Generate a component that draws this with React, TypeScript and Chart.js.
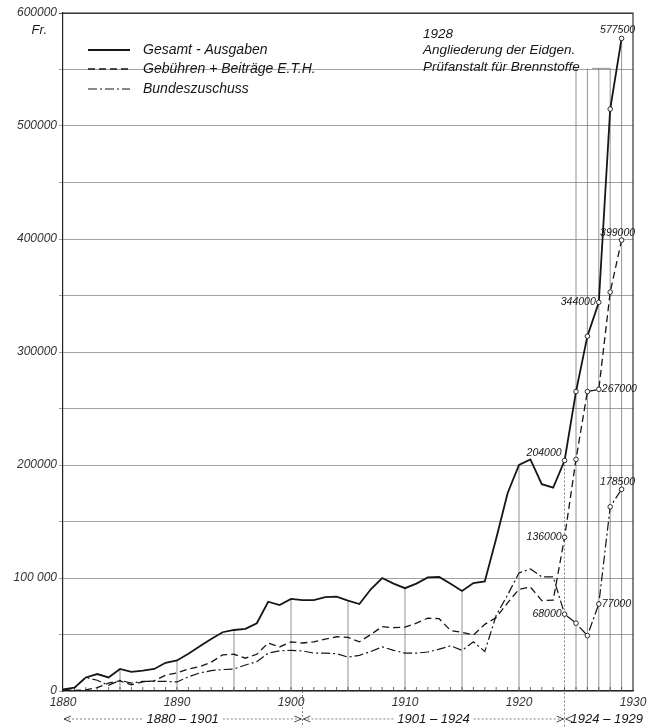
import React, { useEffect, useRef } from 'react';
import { Chart, registerables } from 'chart.js';

Chart.register(...registerables);

const years = [
  1880, 1881, 1882, 1883, 1884, 1885, 1886, 1887, 1888, 1889,
  1890, 1891, 1892, 1893, 1894, 1895, 1896, 1897, 1898, 1899,
  1900, 1901, 1902, 1903, 1904, 1905, 1906, 1907, 1908, 1909,
  1910, 1911, 1912, 1913, 1914, 1915, 1916, 1917, 1918, 1919,
  1920, 1921, 1922, 1923, 1924, 1925, 1926, 1927, 1928, 1929,
];

const gesamt = [
  1500, 3000, 12000, 15000, 12000, 19500, 17000, 18000, 19500, 25000,
  27000, 33000, 39500, 46000, 52000, 54000, 55000, 60000, 79000, 76000,
  81500, 80500, 80500, 83000, 83500, 80000, 77000, 90000, 100000, 95000,
  91000, 95000, 100500, 101000, 95000, 88500, 95500, 97000, 135000, 175000,
  200000, 205000, 183000, 180000, 204000, 265000, 314000, 344000, 515000, 577500,
];

const gebuehren = [
  500, 500, 1000, 3000, 7000, 9000, 5500, 8000, 9000, 14000,
  16000, 19500, 21500, 25500, 32000, 32500, 29000, 32500, 42500, 39000,
  43500, 42500, 43500, 46000, 48000, 47500, 43500, 50000, 57000, 56000,
  56500, 60000, 64500, 64000, 53500, 52000, 49500, 59000, 65000, 78000,
  90000, 92000, 80000, 80500, 136000, 205000, 265000, 267000, 353000, 399000,
];

const bund = [
  1000, 2500, 12000, 9500, 5000, 9500, 7000, 8500, 8500, 8500,
  8000, 12500, 16000, 18000, 19000, 19500, 23000, 26000, 33500, 35500,
  36000, 35500, 33500, 33500, 33000, 30000, 31500, 35000, 39000, 36000,
  33500, 33500, 34500, 37000, 40000, 36000, 43500, 35000, 67000, 85000,
  104500, 108000, 101000, 101000, 68000, 60000, 49000, 77000, 163000, 178500,
];

const seriesNames = ['Gesamt - Ausgaben', 'Gebühren + Beiträge E.T.H.', 'Bundeszuschuss'];
const yTickLabels = ['0', '100 000', '200000', '300000', '400000', '500000', '600000'];
const xTickYears = [1880, 1890, 1900, 1910, 1920, 1930];
const labelledYears = [1924, 1927, 1929];
const periodBounds = [1880, 1901, 1924, 1929];
const periodLabels = ['1880 – 1901', '1901 – 1924', '1924 – 1929'];
const partialGridYears = [1885, 1890, 1895, 1900, 1905, 1910, 1915, 1920];
const lateGridYears = [1925, 1926, 1927, 1928];
const noteLines = ['1928', 'Angliederung der Eidgen.', 'Prüfanstalt für Brennstoffe'];
const noteYear = 1928;
const noteLevel = 551000;
const unitLabel = 'Fr.';

const FONT = "'Liberation Sans', Arial, sans-serif";
const INK = '#161616';
const DASH_GEB = [7, 4];
const DASH_BUND = [9, 3, 2, 3];

function fmt(v: number) {
  return String(v);
}

export default function App() {
  const ref = useRef<HTMLCanvasElement | null>(null);

  useEffect(() => {
    document.body.style.margin = '0';
    const canvas = ref.current;
    if (!canvas) return;

    const valueAt = (arr: number[], yr: number) => arr[years.indexOf(yr)];

    const decor = {
      id: 'decor',
      beforeDatasetsDraw(chart: any) {
        const { ctx, chartArea } = chart;
        const xs = chart.scales.x;
        const ys = chart.scales.y;
        const bottom = chartArea.bottom;
        ctx.save();
        ctx.strokeStyle = '#222';
        ctx.lineWidth = 1.1;
        ctx.beginPath();
        ctx.moveTo(chartArea.left, chartArea.top);
        ctx.lineTo(chartArea.right, chartArea.top);
        ctx.lineTo(chartArea.right, chartArea.bottom);
        ctx.stroke();

        ctx.strokeStyle = '#777';
        ctx.lineWidth = 0.8;
        partialGridYears.forEach((yr) => {
          const x = xs.getPixelForValue(yr);
          ctx.beginPath();
          ctx.moveTo(x, bottom);
          ctx.lineTo(x, ys.getPixelForValue(valueAt(gesamt, yr)));
          ctx.stroke();
        });
        lateGridYears.forEach((yr) => {
          const x = xs.getPixelForValue(yr);
          ctx.beginPath();
          ctx.moveTo(x, bottom);
          ctx.lineTo(x, ys.getPixelForValue(noteLevel));
          ctx.stroke();
        });
        {
          const x = xs.getPixelForValue(1929);
          ctx.beginPath();
          ctx.moveTo(x, bottom);
          ctx.lineTo(x, ys.getPixelForValue(valueAt(gesamt, 1929)));
          ctx.stroke();
        }
        ctx.beginPath();
        ctx.moveTo(592, ys.getPixelForValue(noteLevel));
        ctx.lineTo(xs.getPixelForValue(noteYear), ys.getPixelForValue(noteLevel));
        ctx.stroke();

        ctx.setLineDash([2, 2]);
        ctx.strokeStyle = '#666';
        [1901, 1924].forEach((yr) => {
          const x = xs.getPixelForValue(yr);
          const top = yr === 1924 ? ys.getPixelForValue(valueAt(gesamt, yr)) : bottom;
          ctx.beginPath();
          ctx.moveTo(x, top);
          ctx.lineTo(x, chart.height);
          ctx.stroke();
        });
        ctx.setLineDash([]);

        ctx.strokeStyle = '#444';
        ctx.lineWidth = 0.8;
        for (let yr = 1881; yr < 1930; yr++) {
          const x = xs.getPixelForValue(yr);
          ctx.beginPath();
          ctx.moveTo(x, bottom);
          ctx.lineTo(x, bottom - 4);
          ctx.stroke();
        }

        const py = 719;
        ctx.font = `italic 13px ${FONT}`;
        ctx.fillStyle = INK;
        ctx.textBaseline = 'middle';
        const arrow = (x: number, dir: number) => {
          ctx.setLineDash([]);
          ctx.strokeStyle = '#333';
          ctx.lineWidth = 0.9;
          ctx.beginPath();
          ctx.moveTo(x + dir * 7, py - 3);
          ctx.lineTo(x, py);
          ctx.lineTo(x + dir * 7, py + 3);
          ctx.stroke();
        };
        const dotted = (a: number, b: number) => {
          if (b <= a) return;
          ctx.setLineDash([2, 2]);
          ctx.strokeStyle = '#666';
          ctx.lineWidth = 0.8;
          ctx.beginPath();
          ctx.moveTo(a, py);
          ctx.lineTo(b, py);
          ctx.stroke();
          ctx.setLineDash([]);
        };
        for (let i = 0; i < periodLabels.length; i++) {
          const x0 = xs.getPixelForValue(periodBounds[i]);
          const x1 = xs.getPixelForValue(periodBounds[i + 1]);
          const w = ctx.measureText(periodLabels[i]).width;
          if (i < 2) {
            const cx = (x0 + x1) / 2;
            ctx.textAlign = 'center';
            ctx.fillText(periodLabels[i], cx, py);
            dotted(x0 + 1, cx - w / 2 - 4);
            dotted(cx + w / 2 + 4, x1 - 1);
            arrow(x0 + 1, 1);
            arrow(x1 - 1, -1);
          } else {
            ctx.textAlign = 'left';
            arrow(x0 + 1, 1);
            ctx.fillText(periodLabels[i], x0 + 6, py);
          }
        }
        ctx.restore();
      },
      afterDatasetsDraw(chart: any) {
        const { ctx } = chart;
        const xs = chart.scales.x;
        const ys = chart.scales.y;
        ctx.save();
        ctx.fillStyle = INK;

        ctx.font = `italic 10.5px ${FONT}`;
        ctx.textBaseline = 'middle';
        const put = (arr: number[], yr: number, mode: string, dy: number) => {
          const v = valueAt(arr, yr);
          const x = xs.getPixelForValue(yr);
          const y = ys.getPixelForValue(v);
          const t = fmt(v);
          if (mode === 'left') {
            ctx.textAlign = 'right';
            ctx.fillText(t, x - 3, y + dy);
          } else if (mode === 'right') {
            ctx.textAlign = 'left';
            ctx.fillText(t, x + 3, y + dy);
          } else {
            ctx.textAlign = 'center';
            ctx.fillText(t, x - 4, y + dy);
          }
        };
        const [y1, y2, y3] = labelledYears;
        put(gesamt, y1, 'left', -7);
        put(gesamt, y2, 'left', 0);
        put(gesamt, y3, 'above', -8);
        put(gebuehren, y1, 'left', 0);
        put(gebuehren, y2, 'right', 0);
        put(gebuehren, y3, 'above', -7);
        put(bund, y1, 'left', 0);
        put(bund, y2, 'right', 0);
        put(bund, y3, 'above', -7);

        ctx.font = `italic 13.5px ${FONT}`;
        ctx.textAlign = 'left';
        noteLines.forEach((t, i) => {
          ctx.fillText(t, 423, 34 + i * 16.5);
        });

        ctx.font = `italic 13px ${FONT}`;
        ctx.textAlign = 'right';
        ctx.fillText(unitLabel, 47, 30);

        const dashes = [[], DASH_GEB, DASH_BUND];
        const widths = [1.8, 1.3, 1.2];
        const ly = [50, 69, 89];
        ctx.font = `italic 14px ${FONT}`;
        ctx.textAlign = 'left';
        seriesNames.forEach((name, i) => {
          ctx.strokeStyle = INK;
          ctx.lineWidth = widths[i];
          ctx.setLineDash(dashes[i]);
          ctx.beginPath();
          ctx.moveTo(88, ly[i]);
          ctx.lineTo(130, ly[i]);
          ctx.stroke();
          ctx.setLineDash([]);
          ctx.fillText(name, 143, ly[i]);
        });
        ctx.restore();
      },
    };

    const pointR = (c: any) => (years[c.dataIndex] >= 1924 ? 2.3 : 0);
    const mk = (arr: number[]) => years.map((x, i) => ({ x, y: arr[i] }));
    const common = {
      borderColor: INK,
      tension: 0,
      fill: false,
      pointRadius: pointR,
      pointHoverRadius: pointR,
      pointBackgroundColor: '#fff',
      pointBorderColor: INK,
      pointBorderWidth: 0.9,
    };

    const chart = new Chart(canvas, {
      type: 'line',
      data: {
        datasets: [
          { ...common, label: seriesNames[0], data: mk(gesamt), borderWidth: 1.8 },
          { ...common, label: seriesNames[1], data: mk(gebuehren), borderWidth: 1.3, borderDash: DASH_GEB },
          { ...common, label: seriesNames[2], data: mk(bund), borderWidth: 1.2, borderDash: DASH_BUND },
        ],
      },
      options: {
        responsive: false,
        animation: false,
        events: [],
        layout: { padding: { top: 13, right: 23, left: 0, bottom: 0 } },
        plugins: { legend: { display: false }, tooltip: { enabled: false } },
        scales: {
          x: {
            type: 'linear',
            min: 1880,
            max: 1930,
            afterBuildTicks: (s: any) => {
              s.ticks = xTickYears.map((v) => ({ value: v }));
            },
            afterFit: (s: any) => {
              s.height = 36;
            },
            ticks: {
              callback: (v: any) => String(v),
              font: { family: FONT, style: 'italic', size: 12 },
              color: '#333',
              padding: 4,
              maxRotation: 0,
              autoSkip: false,
            },
            grid: { display: false, drawTicks: false },
            border: { display: true, color: '#222', width: 1.2 },
          },
          y: {
            min: 0,
            max: 600000,
            afterFit: (s: any) => {
              s.width = 63;
            },
            ticks: {
              stepSize: 50000,
              callback: (v: any) => (v % 100000 === 0 ? yTickLabels[v / 100000] : ''),
              font: { family: FONT, style: 'italic', size: 12 },
              color: '#333',
              padding: 2,
            },
            grid: {
              color: (c: any) => (c.tick && c.tick.value === 600000 ? '#222' : '#8a8a8a'),
              lineWidth: 0.8,
              tickLength: 4,
            },
            border: { display: true, color: '#222', width: 1.2 },
          },
        },
      },
      plugins: [decor],
    });

    return () => chart.destroy();
  }, []);

  return <canvas ref={ref} width={656} height={727} style={{ display: 'block' }} />;
}
